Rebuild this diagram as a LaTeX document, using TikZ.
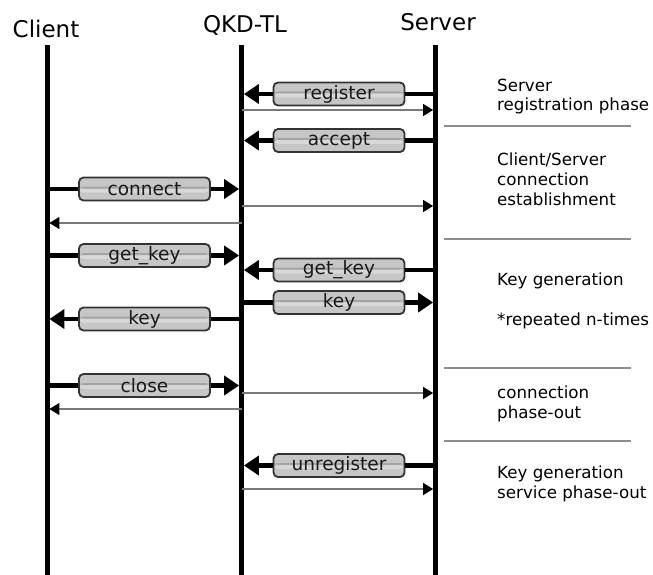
\documentclass[tikz,border=0pt]{standalone}
\usepackage{fontspec}
\setmainfont{DejaVu Sans}
\usetikzlibrary{arrows.meta}

\definecolor{boxfill}{HTML}{C6C6C6}
\definecolor{boxdark}{HTML}{A4A4A4}
\definecolor{boxlight}{HTML}{D8D8D8}
\definecolor{boxedge}{HTML}{333333}
\definecolor{thinline}{HTML}{7A7A7A}
\definecolor{sepline}{HTML}{8C8C8C}

\tikzset{
  lifeline/.style={line width=5pt},
  header/.style={font=\fontsize{23}{27}\selectfont, anchor=base},
  msgbox/.style={draw=boxedge, line width=1.8pt, fill=boxfill,
    rounded corners=4.5pt, minimum width=131pt, minimum height=23pt,
    inner sep=0pt, font=\fontsize{18.5}{20}\selectfont, text=black!90,
    path picture={
      \fill[boxlight] ([yshift=-3.5pt]path picture bounding box.west)
        rectangle ([yshift=0.5pt]path picture bounding box.east);
      \fill[boxdark] ([yshift=0.5pt]path picture bounding box.west)
        rectangle ([yshift=2.5pt]path picture bounding box.east);
    }},
  thick msg/.style={line width=4.5pt},
  thick arrow/.style={line width=4.5pt,
    -{Triangle[length=15pt,width=19pt]}, shorten >=2.4pt},
  thin arrow/.style={thinline, line width=1.2pt,
    -{Triangle[length=10pt,width=12pt,color=black]}, shorten >=2.4pt},
  separator/.style={sepline, line width=1.4pt},
  % multi-line texts: the base anchor sits on the last line's baseline
  phase/.style={font=\fontsize{16.7}{20}\selectfont, anchor=base west,
    align=left, inner sep=0pt}
}

\begin{document}
\begin{tikzpicture}[x=1pt, y=-1pt]
\useasboundingbox (0,0) rectangle (653,575);

% lifelines
\coordinate (C) at (47,45);
\coordinate (Cb) at (47,575);
\coordinate (Q) at (241.5,45);
\coordinate (Qb) at (241.5,575);
\coordinate (S) at (435.5,45);
\coordinate (Sb) at (435.5,575);
\draw[lifeline] (C) -- (Cb);
\draw[lifeline] (Q) -- (Qb);
\draw[lifeline] (S) -- (Sb);

% headers
\node[header] (hC) at (46,38) {Client};
\node[header] (hQ) at (245,33) {QKD-TL};
\node[header] (hS) at (438,31) {Server};

% message boxes
\node[msgbox] (register)   at (339,94)    {register};
\node[msgbox] (accept)     at (339,140.5) {accept};
\node[msgbox] (connect)    at (144.5,189) {connect};
\node[msgbox] (getkeyC)    at (144.5,255.5) {get\_key};
\node[msgbox] (getkeyS)    at (339,270)   {get\_key};
\node[msgbox] (keyS)       at (339,302.5) {key};
\node[msgbox] (keyC)       at (144.5,319) {key};
\node[msgbox] (close)      at (144.5,385.5) {close};
\node[msgbox] (unregister) at (339,465.5) {unregister};

% server -> QKD-TL
\foreach \b in {register, accept, getkeyS, unregister} {
  \draw[thick msg] (\b -| S) -- (\b.east);
  \draw[thick arrow] (\b.west) -- (\b -| Q);
}
% QKD-TL -> server
\draw[thick msg] (keyS -| Q) -- (keyS.west);
\draw[thick arrow] (keyS.east) -- (keyS -| S);
% client -> QKD-TL
\foreach \b in {connect, getkeyC, close} {
  \draw[thick msg] (\b -| C) -- (\b.west);
  \draw[thick arrow] (\b.east) -- (\b -| Q);
}
% QKD-TL -> client
\draw[thick msg] (keyC -| Q) -- (keyC.east);
\draw[thick arrow] (keyC.west) -- (keyC -| C);

% thin notifications
\coordinate (t1) at (0,110);
\coordinate (t2) at (0,206);
\coordinate (t3) at (0,223);
\coordinate (t4) at (0,393);
\coordinate (t5) at (0,409);
\coordinate (t6) at (0,489);
\foreach \t in {t1, t2, t4, t6} {
  \draw[thin arrow] (\t -| Q) -- (\t -| S);
}
\foreach \t in {t3, t5} {
  \draw[thin arrow] (\t -| Q) -- (\t -| C);
}

% phase separators
\coordinate (s1a) at (444,126);   \coordinate (s1b) at (631,126);
\coordinate (s2a) at (444,239);   \coordinate (s2b) at (631,239);
\coordinate (s3a) at (444,368);   \coordinate (s3b) at (631,368);
\coordinate (s4a) at (444,441);   \coordinate (s4b) at (631,441);
\draw[separator] (s1a) -- (s1b);
\draw[separator] (s2a) -- (s2b);
\draw[separator] (s3a) -- (s3b);
\draw[separator] (s4a) -- (s4b);

% phase descriptions
\node[phase] (p1) at (497,111) {Server\\registration phase};
\node[phase] (p2) at (497,205) {Client/Server\\connection\\establishment};
\node[phase] (p3) at (497,285) {Key generation};
\node[phase] (p4) at (497,325) {*repeated n-times};
\node[phase] (p5) at (497,418) {connection\\phase-out};
\node[phase] (p6) at (497,498) {Key generation\\service phase-out};
\end{tikzpicture}
\end{document}
